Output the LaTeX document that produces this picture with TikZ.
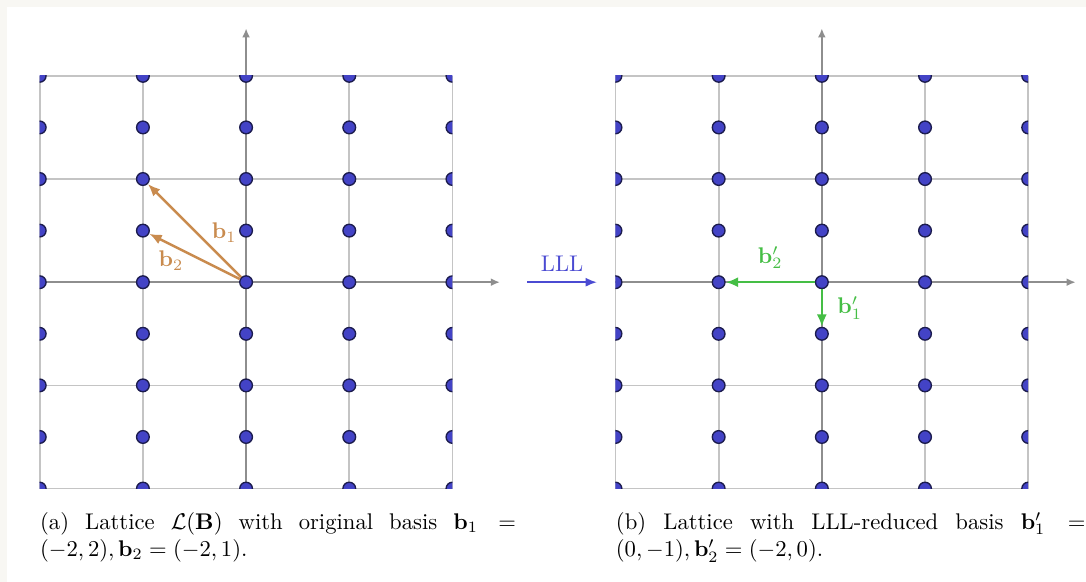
\documentclass[tikz,border=0pt]{standalone}
\usepackage{amsmath}
\usetikzlibrary{arrows.meta,positioning}
\definecolor{gridgray}{HTML}{C4C4C4}
\definecolor{axisgray}{HTML}{8E8E8E}
\definecolor{dotblue}{HTML}{4343C6}
\definecolor{dotedge}{HTML}{1C1C4E}
\definecolor{basisbrown}{HTML}{C98B4E}
\definecolor{basisgreen}{HTML}{45BE45}
\definecolor{lllblue}{HTML}{4B4BD2}
\definecolor{paper}{HTML}{F8F7F3}

\begin{document}
\begin{tikzpicture}[x=0.8cm, y=0.8cm,
  dot/.style={circle, draw=dotedge, fill=dotblue, line width=0.6pt, inner sep=0pt, minimum size=5.6pt},
  gridline/.style={draw=gridgray, line width=0.75pt},
  axis/.style={-{Latex[length=4pt,width=3.5pt]}, draw=axisgray, line width=0.8pt},
  vec/.style={-{Latex[length=5.5pt,width=4.5pt]}, line width=1.1pt},
  captext/.style={anchor=north west, text width=7.38cm, align=justify, inner sep=0pt}
]
% page
\fill[paper] (-4.77,-5.81) rectangle (16.28,5.47);
\fill[white] (-4.634,-5.81) rectangle (16.28,5.334);
\useasboundingbox (-4.77,-5.81) rectangle (16.28,5.47);

% both lattices
\foreach \p/\sx in {a/0, b/11.16}{
  \begin{scope}[shift={(\sx,0)}]
    \draw[gridline] (-4,-4) grid[step=2] (4,4);
    \coordinate (\p-xl) at (-4,0);
    \coordinate (\p-xr) at (4.92,0);
    \coordinate (\p-yb) at (0,-4);
    \coordinate (\p-yt) at (0,4.92);
    \draw[axis] (\p-xl) -- (\p-xr);
    \draw[axis] (\p-yb) -- (\p-yt);
    \begin{scope}
      \clip (-4,-4) rectangle (4,4);
      \foreach \x [count=\i] in {-4,-2,...,4}
        \foreach \y [count=\j] in {-4,...,4}
          \node[dot] (\p\i\j) at (\x,\y) {};
    \end{scope}
  \end{scope}
}

% original basis
\draw[vec, basisbrown] (a35) -- (a27) node[pos=0.48, right=3pt] {$\mathbf{b}_1$};
\draw[vec, basisbrown] (a35) -- (a26) node[pos=0.76, below=-1pt] {$\mathbf{b}_2$};

% reduced basis
\draw[vec, basisgreen] (b35) -- (b25) node[midway, above=2pt] {$\mathbf{b}'_2$};
\draw[vec, basisgreen] (b35) -- (b34) node[midway, right=3pt] {$\mathbf{b}'_1$};

% LLL step
\coordinate (lll-s) at (5.45,0);
\coordinate (lll-e) at (6.80,0);
\draw[-{Latex[length=5pt,width=4pt]}, lllblue, line width=0.8pt] (lll-s) -- (lll-e)
  node[midway, above=1pt] {LLL};

% captions
\node[captext] (capa) at (-4,-4.45) {(a) Lattice $\mathcal{L}(\mathbf{B})$ with original basis $\mathbf{b}_1 = (-2,2), \mathbf{b}_2 = (-2,1)$.};
\node[captext, text width=7.28cm] (capb) at (7.16,-4.45) {(b) Lattice with LLL-reduced basis $\mathbf{b}'_1 = (0,-1), \mathbf{b}'_2 = (-2,0)$.};
\end{tikzpicture}
\end{document}
